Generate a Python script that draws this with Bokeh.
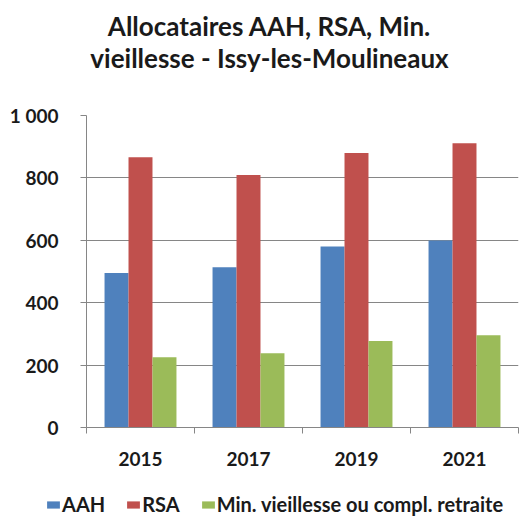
from bokeh.plotting import figure
from bokeh.layouts import column
from bokeh.models import (ColumnDataSource, Range1d, FixedTicker, Legend, LegendItem, Label)
from bokeh.transform import dodge
from bokeh.embed import file_html
from bokeh.resources import INLINE

years = ["2015", "2017", "2019", "2021"]
aah = [495, 514, 580, 599]
rsa = [866, 809, 880, 911]
minv = [225, 238, 277, 296]
series_names = ["AAH", "RSA", "Min. vieillesse ou compl. retraite"]
colors = ["#4F81BD", "#C0504D", "#9BBB59"]
y_ticks = [0, 200, 400, 600, 800, 1000]
y_labels = ["0", "200", "400", "600", "800", "1 000"]
title_lines = ["Allocataires AAH, RSA, Min.", "vieillesse - Issy-les-Moulineaux"]

FONT = "Lato"
TXT = "#1a1a1a"
W = 520

# ---------- title block ----------
TH = 90
tf = figure(width=W, height=TH, output_backend="svg", toolbar_location=None,
            x_range=Range1d(0, W), y_range=Range1d(0, TH),
            x_axis_type=None, y_axis_type=None, frame_align=False,
            min_border_left=0, min_border_right=0, min_border_top=0, min_border_bottom=0)
tf.outline_line_color = None
for txt, yb in zip(title_lines, [65, 33]):
    tf.add_layout(Label(x=269, y=yb, text=txt, text_align="center", text_baseline="alphabetic",
                        text_font=FONT, text_font_style="bold", text_font_size="26px",
                        text_color=TXT))

# ---------- chart ----------
pos = [i + 0.5 for i in range(len(years))]
src = ColumnDataSource(dict(x=pos, aah=aah, rsa=rsa, minv=minv))

p = figure(width=W, height=400, output_backend="svg", toolbar_location=None,
           x_range=Range1d(0, len(years)), y_range=Range1d(0, 1000), frame_align=False,
           min_border_left=86, min_border_right=2, min_border_top=25, min_border_bottom=63)
p.outline_line_color = None

bw = 0.222
for off, col, c in zip([-bw, 0, bw], ["aah", "rsa", "minv"], colors):
    p.vbar(x=dodge("x", off, range=p.x_range), top=col, width=bw, source=src,
           fill_color=c, line_color=None)

xa = p.xaxis[0]
xa.ticker = FixedTicker(ticks=pos, minor_ticks=list(range(len(years) + 1)))
xa.major_label_overrides = {pv: y for pv, y in zip(pos, years)}
xa.major_tick_out = 0
xa.major_tick_in = 0
xa.minor_tick_out = 6
xa.minor_tick_in = 0
xa.minor_tick_line_color = "#868686"
xa.axis_line_color = "#868686"
xa.major_label_text_font = FONT
xa.major_label_text_font_style = "bold"
xa.major_label_text_font_size = "19px"
xa.major_label_text_color = TXT
xa.major_label_standoff = 18

ya = p.yaxis[0]
ya.ticker = FixedTicker(ticks=y_ticks)
ya.major_label_overrides = {t: l for t, l in zip(y_ticks, y_labels)}
ya.major_tick_out = 6
ya.major_tick_in = 0
ya.minor_tick_out = 0
ya.minor_tick_in = 0
ya.major_tick_line_color = "#868686"
ya.axis_line_color = "#868686"
ya.major_label_text_font = FONT
ya.major_label_text_font_style = "bold"
ya.major_label_text_font_size = "19px"
ya.major_label_text_color = TXT
ya.major_label_standoff = 22

p.xgrid.grid_line_color = None
p.ygrid.ticker = FixedTicker(ticks=y_ticks)
p.ygrid.grid_line_color = "#868686"
p.ygrid.grid_line_width = 1

# ---------- legend block ----------
lf = figure(width=W, height=26, output_backend="svg", toolbar_location=None,
            x_range=Range1d(0, 1), y_range=Range1d(0, 1),
            x_axis_type=None, y_axis_type=None, frame_align=False,
            min_border_left=0, min_border_right=0, min_border_top=0, min_border_bottom=0)
lf.outline_line_color = None
renderers = []
for c in colors:
    # zero-height swatch carriers: nothing visible is drawn in the strip
    renderers.append(lf.vbar(x=[0.5], top=[0], bottom=[0], width=0.01,
                             fill_color=c, line_color=None))

legend = Legend(items=[LegendItem(label=n, renderers=[r]) for n, r in zip(series_names, renderers)],
                orientation="horizontal", location=(45, 0),
                border_line_color=None, background_fill_alpha=0,
                label_text_font=FONT, label_text_font_style="bold", label_text_font_size="20px",
                label_text_color=TXT,
                glyph_width=16, glyph_height=9, spacing=20, padding=0, margin=0,
                label_standoff=1)
lf.add_layout(legend, "center")

layout = column(tf, p, lf, spacing=0)
open("out.html", "w").write(file_html(layout, INLINE))
